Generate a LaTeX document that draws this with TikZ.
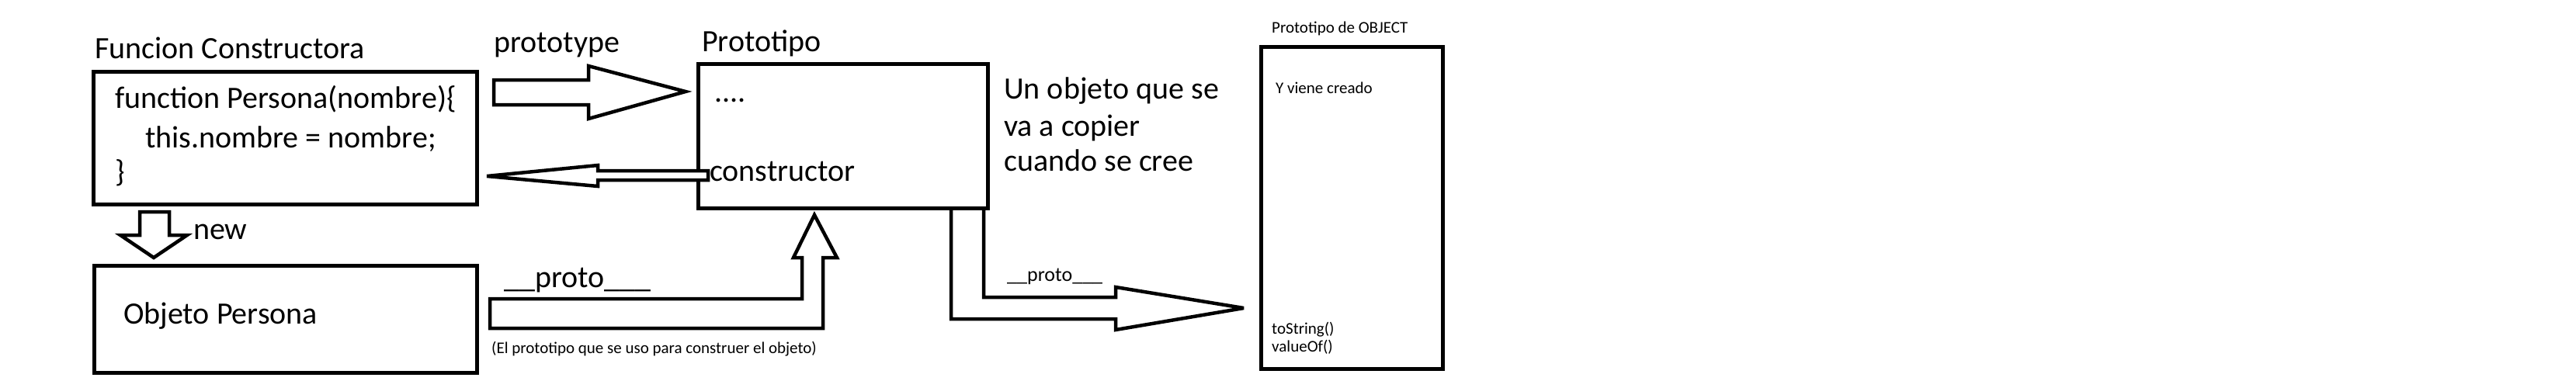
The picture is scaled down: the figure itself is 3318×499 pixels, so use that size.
\documentclass[tikz,border=0pt]{standalone}
\usepackage{fontspec}
\setmainfont{Carlito}
\newcommand\FsBig{\fontsize{40pt}{48pt}\selectfont}
\newcommand\FsMid{\fontsize{26pt}{31pt}\selectfont}
\newcommand\FsSmall{\fontsize{21pt}{25pt}\selectfont}
\begin{document}
\begin{tikzpicture}[x=1pt,y=-1pt,
  box/.style={draw, line width=5pt, inner sep=0pt, outer sep=0pt, anchor=north west},
  blk/.style={draw, line width=4.5pt, line join=miter, miter limit=6, fill=white},
  lbl/.style={inner sep=0pt, anchor=base west, font=\FsBig},
  mid/.style={inner sep=0pt, anchor=base west, font=\FsMid},
  sml/.style={inner sep=0pt, anchor=base west, font=\FsSmall}]
\useasboundingbox[fill=white] (0,0) rectangle (3318,499);

% boxes
\node[box, minimum width=494pt, minimum height=171pt] (fc) at (120,92) {};
\node[box, minimum width=373pt, minimum height=186pt] (pt) at (899,82) {};
\node[box, minimum width=493pt, minimum height=138pt] (op) at (121,342) {};
\node[box, minimum width=234pt, minimum height=415pt] (ob) at (1624,60) {};

% block arrows
\draw[blk] (636,103) -- (758,103) -- (758,85) -- (883,118) -- (758,153) -- (758,135) -- (636,135) -- cycle;
\draw[blk] (912,220) -- (770,220) -- (770,213) -- (627,227) -- (770,240) -- (770,232) -- (912,232) -- cycle;
\draw[blk] (180,273) -- (218,273) -- (218,303) -- (241,303) -- (198,332) -- (155,303) -- (180,303) -- cycle;
\draw[blk] (631,385) -- (1033,385) -- (1033,332) -- (1022,332) -- (1049,277) -- (1078,332) -- (1060,332) -- (1060,423) -- (631,423) -- cycle;
\draw[blk, fill=none] (1225,267) -- (1225,411) -- (1437,411) -- (1437,425) -- (1602,397) -- (1437,370) -- (1437,383) -- (1267,383) -- (1267,267);

% texts
\node[lbl] (t1) at (122,75) {Funcion Constructora};
\node[lbl] (c1) at (148,139) {function Persona(nombre)\{};
\node[lbl] (c2) at (187,190) {this.nombre = nombre;};
\node[lbl] (c3) at (148,234) {\}};
\node[lbl] (t2) at (636,67) {prototype};
\node[lbl] (t3) at (904,66) {Prototipo};
\node[lbl] (t4) at (920,131) {....};
\node[lbl] (t5) at (914,233) {constructor};
\node[lbl] (u1) at (1293,127) {Un objeto que se};
\node[lbl] (u2) at (1293,175) {va a copier};
\node[lbl] (u3) at (1293,220) {cuando se cree};
\node[sml] (o1) at (1638,42) {Prototipo de OBJECT};
\node[sml] (o2) at (1643,120) {Y viene creado};
\node[sml] (o3) at (1638,430) {toString()};
\node[sml] (o4) at (1638,453) {valueOf()};
\node[lbl] (t6) at (249,308) {new};
\node[lbl] (t7) at (159,417) {Objeto Persona};
\node[lbl] (t8) at (649,370) {\_\_proto\_\_\_};
\node[sml] (t9) at (633,455) {(El prototipo que se uso para construer el objeto)};
\node[mid] (t10) at (1297,362) {\_\_proto\_\_\_};
\end{tikzpicture}
\end{document}
